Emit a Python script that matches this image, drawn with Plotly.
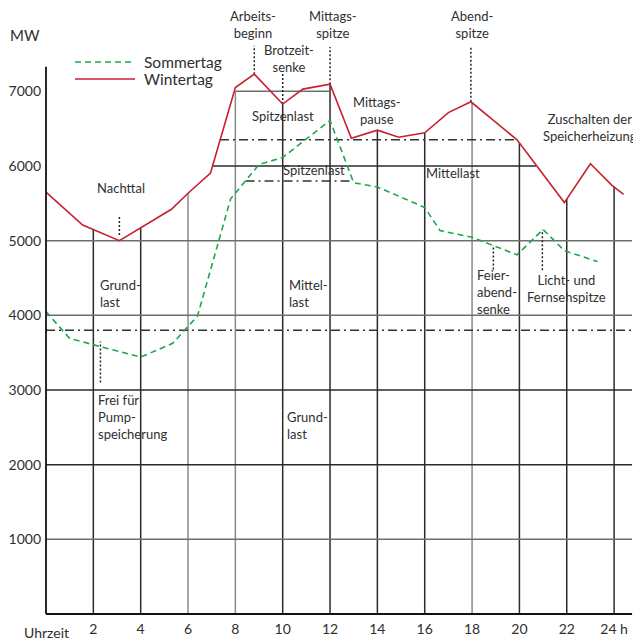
import numpy as np
import plotly.graph_objects as go

# ---------------- data ----------------
winter_h = [0, 1.55, 3.1, 5.3, 6.0, 6.95, 8.0, 8.8, 10.0, 10.85, 12.0, 12.9, 14.0, 14.9, 16.0, 17.0, 17.95, 19.9, 21.9, 23.0, 23.9, 24.4]
winter_mw = [5650, 5210, 5000, 5420, 5635, 5905, 7050, 7230, 6830, 7030, 7095, 6370, 6480, 6385, 6445, 6715, 6860, 6350, 5510, 6030, 5745, 5620]

summer_h = [0, 1.0, 4.0, 5.35, 6.4, 7.8, 9.0, 10.0, 12.0, 13.0, 14.0, 16.0, 16.65, 18.0, 19.9, 21.0, 21.9, 23.3]
summer_mw = [4050, 3690, 3440, 3625, 3990, 5560, 6020, 6115, 6610, 5775, 5720, 5445, 5135, 5045, 4810, 5150, 4865, 4720]

x_ticks = [2, 4, 6, 8, 10, 12, 14, 16, 18, 20, 22, 24]
x_ticktext = ["2", "4", "6", "8", "10", "12", "14", "16", "18", "20", "22", "24 h"]
y_ticks = [1000, 2000, 3000, 4000, 5000, 6000, 7000]
y_ticktext = ["1000", "2000", "3000", "4000", "5000", "6000", "7000"]

# vertical grid lines (hour) rise up to the winter curve, capped by the 7000 box
grid_hours = [2, 4, 6, 8, 10, 12, 14, 16, 18, 20, 22, 24]
grid_dark = [True, True, False, False, True, True, True, True, False, True, True, True]
box_top = 7000

# horizontal solid levels: (value, start hour, end hour, dark)
hlines = [(1000, 0, 24.76, False), (2000, 0, 24.76, True), (3000, 0, 24.76, True),
          (4000, 0, 24.76, False), (5000, 0, 24.76, False), (6000, 7.02, 20.7, True),
          (7000, 8, 12, False)]
# dash-dot load levels: (value, start hour, end hour)
dd_lines = [(3800, 0, 24.76), (6350, 7.35, 19.9), (5800, 8.43, 13.0)]
# dotted pointer lines: (hour, low, high)
pointers = [(8.8, 7230, 7610), (10.0, 6830, 7245), (12.0, 7095, 7595), (17.95, 6860, 7595),
            (3.1, 5075, 5345), (2.3, 3100, 3650), (18.9, 4615, 4940), (20.97, 4605, 5145)]

# labels: (text, hour, value, xanchor)
labels = [
    ("Arbeits-<br>beginn", 8.75, 7901, "center"),
    ("Brotzeit-<br>senke", 10.27, 7439, "center"),
    ("Mittags-<br>spitze", 12.12, 7901, "center"),
    ("Abend-<br>spitze", 18.0, 7901, "center"),
    ("Spitzenlast", 10.0, 6669, "center"),
    ("Spitzenlast", 11.32, 5946, "center"),
    ("Mittags-<br>pause", 13.98, 6743, "center"),
    ("Mittellast", 17.19, 5906, "center"),
    ("Zuschalten der<br>Speicherheizung", 22.98, 6522, "center"),
    ("Nachttal", 3.17, 5705, "center"),
    ("Grund-<br>last", 2.18, 4292, "left"),
    ("Mittel-<br>last", 10.18, 4292, "left"),
    ("Frei für<br>Pump-<br>speicherung", 2.10, 2638, "left"),
    ("Grund-<br>last", 10.1, 2524, "left"),
    ("Feier-<br>abend-<br>senke", 18.12, 4316, "left"),
    ("Licht- und<br>Fernsehspitze", 22.0, 4362, "center"),
]

RED = "#c8202f"
GREEN = "#1ba84c"
DARK = "#2b2b2b"
GRAY = "#8a8a8a"
TXT = "#2f2f2f"
FONT = "Lato"

fig = go.Figure()

# grid lines
for h, dark in zip(grid_hours, grid_dark):
    top = float(np.interp(h, winter_h, winter_mw))
    if h == 8:
        top = box_top
    fig.add_shape(type="line", x0=h, x1=h, y0=0, y1=top, xref="x", yref="y",
                  line=dict(color=DARK if dark else GRAY, width=1.5), layer="below")
for v, a, b, dark in hlines:
    fig.add_shape(type="line", x0=a, x1=b, y0=v, y1=v, xref="x", yref="y",
                  line=dict(color=DARK if dark else "#6e6e6e", width=1.5), layer="below")
for v, a, b in dd_lines:
    fig.add_shape(type="line", x0=a, x1=b, y0=v, y1=v, xref="x", yref="y",
                  line=dict(color="#333333", width=1.5, dash="9px,4px,2px,4px"), layer="below")
for h, lo, hi in pointers:
    fig.add_shape(type="line", x0=h, x1=h, y0=lo, y1=hi, xref="x", yref="y",
                  line=dict(color="#222222", width=1.5, dash="2px,2px"), layer="below")

# axes lines
fig.add_shape(type="line", x0=0, x1=0, y0=0, y1=7330, xref="x", yref="y",
              line=dict(color="#111111", width=1.8))
fig.add_shape(type="line", x0=0, x1=24.76, y0=0, y1=0, xref="x", yref="y",
              line=dict(color="#111111", width=2))

# curves
fig.add_trace(go.Scatter(x=summer_h, y=summer_mw, mode="lines", name="Sommertag",
                         line=dict(color=GREEN, width=1.6, dash="6px,4px"), showlegend=False))
fig.add_trace(go.Scatter(x=winter_h, y=winter_mw, mode="lines", name="Wintertag",
                         line=dict(color=RED, width=1.6), showlegend=False))

# custom legend
fig.add_shape(type="line", x0=1.225, x1=3.76, y0=7393, y1=7393, xref="x", yref="y",
              line=dict(color=GREEN, width=1.6, dash="6px,4px"))
fig.add_shape(type="line", x0=1.225, x1=3.76, y0=7165, y1=7165, xref="x", yref="y",
              line=dict(color=RED, width=1.6))
fig.add_annotation(x=4.06, y=7393, text="Sommertag", showarrow=False, xanchor="left",
                   yanchor="middle", font=dict(family=FONT, size=15.5, color=TXT))
fig.add_annotation(x=4.06, y=7165, text="Wintertag", showarrow=False, xanchor="left",
                   yanchor="middle", font=dict(family=FONT, size=15.5, color=TXT))

for text, h, v, xa in labels:
    fig.add_annotation(x=h, y=v, text=text, showarrow=False, xanchor=xa, yanchor="middle",
                       align=xa, font=dict(family=FONT, size=13, color=TXT))

# axis titles
fig.add_annotation(x=-0.057, y=7750, xref="paper", yref="y", text="MW", showarrow=False,
                   xanchor="left", yanchor="middle", font=dict(family=FONT, size=15, color=TXT))
fig.add_annotation(x=0.008, y=-0.0215, xref="paper", yref="paper", text="Uhrzeit", showarrow=False,
                   xanchor="center", yanchor="middle", font=dict(family=FONT, size=14, color=TXT))

fig.update_layout(
    width=633, height=633,
    margin=dict(l=34, r=0, t=0, b=22),
    plot_bgcolor="white", paper_bgcolor="white",
    showlegend=False,
    xaxis=dict(range=[-0.169, 25.137], showgrid=False, zeroline=False, showline=False,
               tickvals=x_ticks, ticktext=x_ticktext, ticks="",
               tickfont=dict(family=FONT, size=14, color=TXT)),
    yaxis=dict(range=[-67, 8116], showgrid=False, zeroline=False, showline=False,
               tickvals=y_ticks, ticktext=y_ticktext, ticks="",
               tickfont=dict(family=FONT, size=14, color=TXT)),
)

fig.write_html("out.html")
